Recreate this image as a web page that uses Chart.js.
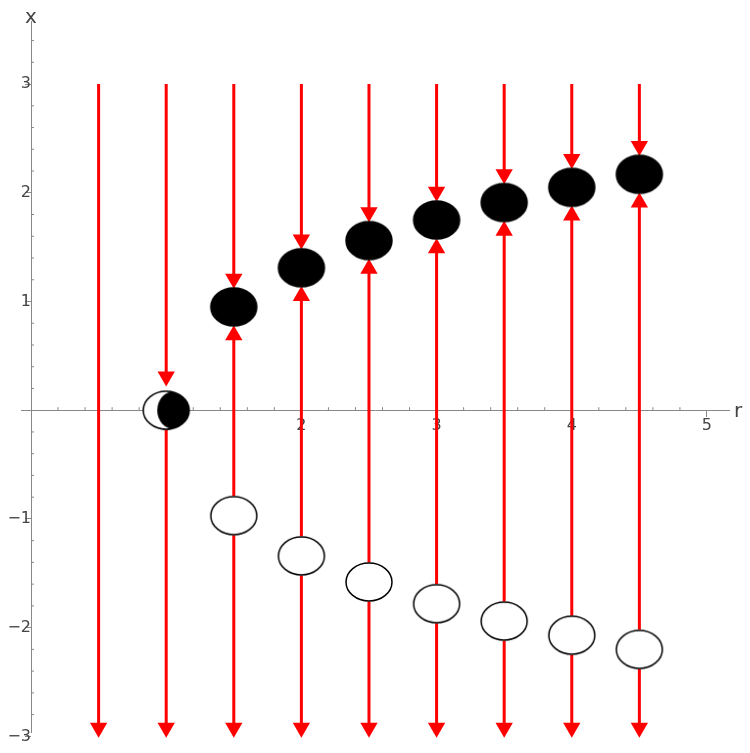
<!DOCTYPE html>
<html lang="en">
<head>
<meta charset="UTF-8">
<title>Bifurcation</title>
<script src="https://cdn.jsdelivr.net/npm/chart.js"></script>
<style>
  body { margin: 0; background: #fff; }
  #wrap { width: 750px; height: 753px; }
</style>
</head>
<body>
<div id="wrap"><canvas id="myChart"></canvas></div>
<script>
// data
var rVals    = [0.5, 1, 1.5, 2, 2.5, 3, 3.5, 4, 4.5];
var stable   = [null, 0, 0.95, 1.31, 1.56, 1.75, 1.91, 2.05, 2.17];
var unstable = [null, 0, -0.97, -1.34, -1.58, -1.78, -1.94, -2.07, -2.2];
var xTicks = [1, 2, 3, 4, 5];
var yTicks = [-3, -2, -1, 1, 2, 3];

var RED = '#ff0000';
var gap = 0.18, tipOff = 0.08, yTop = 3, yBottom = -3;

function ellipse(fill, half) {
  var c = document.createElement('canvas');
  c.width = 50; c.height = 42;
  var g = c.getContext('2d');
  g.lineWidth = 1.5;
  g.beginPath(); g.ellipse(25, 21, 23, 19, 0, 0, Math.PI * 2);
  g.fillStyle = fill; g.fill(); g.strokeStyle = '#000'; g.stroke();
  if (half) {
    g.save(); g.beginPath(); g.ellipse(25, 21, 23, 19, 0, 0, Math.PI * 2); g.clip();
    g.beginPath(); g.ellipse(33, 21, 17, 19, 0, 0, Math.PI * 2);
    g.fillStyle = '#000'; g.fill(); g.restore();
  }
  return c;
}
var blackDot = ellipse('#000'), whiteDot = ellipse('#fff'), halfDot = ellipse('#fff', true);

var datasets = [];
var downTips = [], upTips = [];
function seg(r, a, b) {
  datasets.push({ type: 'line', data: [{x: r, y: a}, {x: r, y: b}], borderColor: RED,
    borderWidth: 3, pointRadius: 0, order: 2, clip: false });
}
rVals.forEach(function (r, i) {
  var s = stable[i], u = unstable[i];
  if (s === null) {
    seg(r, yTop, yBottom + 0.1);
    downTips.push({x: r, y: yBottom + tipOff});
  } else if (s === u) {
    seg(r, yTop, s + gap + 0.15);
    downTips.push({x: r, y: s + gap + tipOff + 0.05});
    seg(r, s - gap, yBottom + 0.1);
    downTips.push({x: r, y: yBottom + tipOff});
  } else {
    seg(r, yTop, s + gap + 0.1);
    downTips.push({x: r, y: s + gap + tipOff});
    seg(r, u + gap, s - gap - 0.1);
    upTips.push({x: r, y: s - gap - tipOff});
    seg(r, u - gap, yBottom + 0.1);
    downTips.push({x: r, y: yBottom + tipOff});
  }
});
datasets.push({ type: 'scatter', data: downTips, pointStyle: 'triangle', rotation: 180,
  pointRadius: 10, backgroundColor: RED, borderColor: RED, borderWidth: 0, order: 1, clip: false });
datasets.push({ type: 'scatter', data: upTips, pointStyle: 'triangle', rotation: 0,
  pointRadius: 10, backgroundColor: RED, borderColor: RED, borderWidth: 0, order: 1, clip: false });

var stablePts = [], unstablePts = [], semiPts = [];
rVals.forEach(function (r, i) {
  if (stable[i] === null) return;
  if (stable[i] === unstable[i]) { semiPts.push({x: r, y: stable[i]}); return; }
  stablePts.push({x: r, y: stable[i]});
  unstablePts.push({x: r, y: unstable[i]});
});
[[stablePts, blackDot], [unstablePts, whiteDot], [semiPts, halfDot]].forEach(function (p) {
  datasets.push({ type: 'scatter', data: p[0], pointStyle: p[1], pointRadius: 20, order: 0, clip: false });
});

var extras = {
  id: 'extras',
  afterDraw: function (chart) {
    var c = chart.ctx, xs = chart.scales.x, ys = chart.scales.y;
    var x0 = xs.getPixelForValue(0), y0 = ys.getPixelForValue(0);
    c.save();
    c.strokeStyle = '#888'; c.lineWidth = 1;
    for (var v = 0.2; v < 5.2; v += 0.2) {
      if (Math.abs(v - Math.round(v)) < 0.01) continue;
      var px = xs.getPixelForValue(v);
      c.beginPath(); c.moveTo(px, y0); c.lineTo(px, y0 - 3); c.stroke();
    }
    for (var w = -3; w < 3.6; w += 0.2) {
      if (Math.abs(w - Math.round(w)) < 0.01) continue;
      var py = ys.getPixelForValue(w);
      c.beginPath(); c.moveTo(x0, py); c.lineTo(x0 + 3, py); c.stroke();
    }
    c.fillStyle = '#444'; c.font = '20px "DejaVu Sans"';
    c.textBaseline = 'middle';
    c.fillText('x', x0 - 6, 18);
    c.fillText('r', 734, y0 + 2);
    c.restore();
  }
};

new Chart(document.getElementById('myChart'), {
  data: { datasets: datasets },
  options: {
    responsive: true, maintainAspectRatio: false, animation: false,
    layout: { padding: 0 },
    plugins: { legend: { display: false }, tooltip: { enabled: false } },
    scales: {
      x: {
        type: 'linear', min: -0.074, max: 5.163, position: { y: 0 },
        afterBuildTicks: function (s) { s.ticks = xTicks.map(function (v) { return {value: v}; }); },
        grid: { drawOnChartArea: false, color: '#888', tickLength: 6 },
        border: { color: '#888' },
        ticks: { color: '#444', font: { size: 16, family: 'DejaVu Sans' }, padding: 0 }
      },
      y: {
        type: 'linear', min: -2.96, max: 3.58, position: { x: 0 },
        afterBuildTicks: function (s) { s.ticks = yTicks.map(function (v) { return {value: v}; }); },
        grid: { drawOnChartArea: false, color: '#888', tickLength: 6 },
        border: { color: '#888' },
        ticks: { color: '#444', font: { size: 16, family: 'DejaVu Sans' }, padding: 2,
          callback: function (v) { return v < 0 ? '\u2212' + (-v) : v; } }
      }
    }
  },
  plugins: [extras]
});
</script>
</body>
</html>
